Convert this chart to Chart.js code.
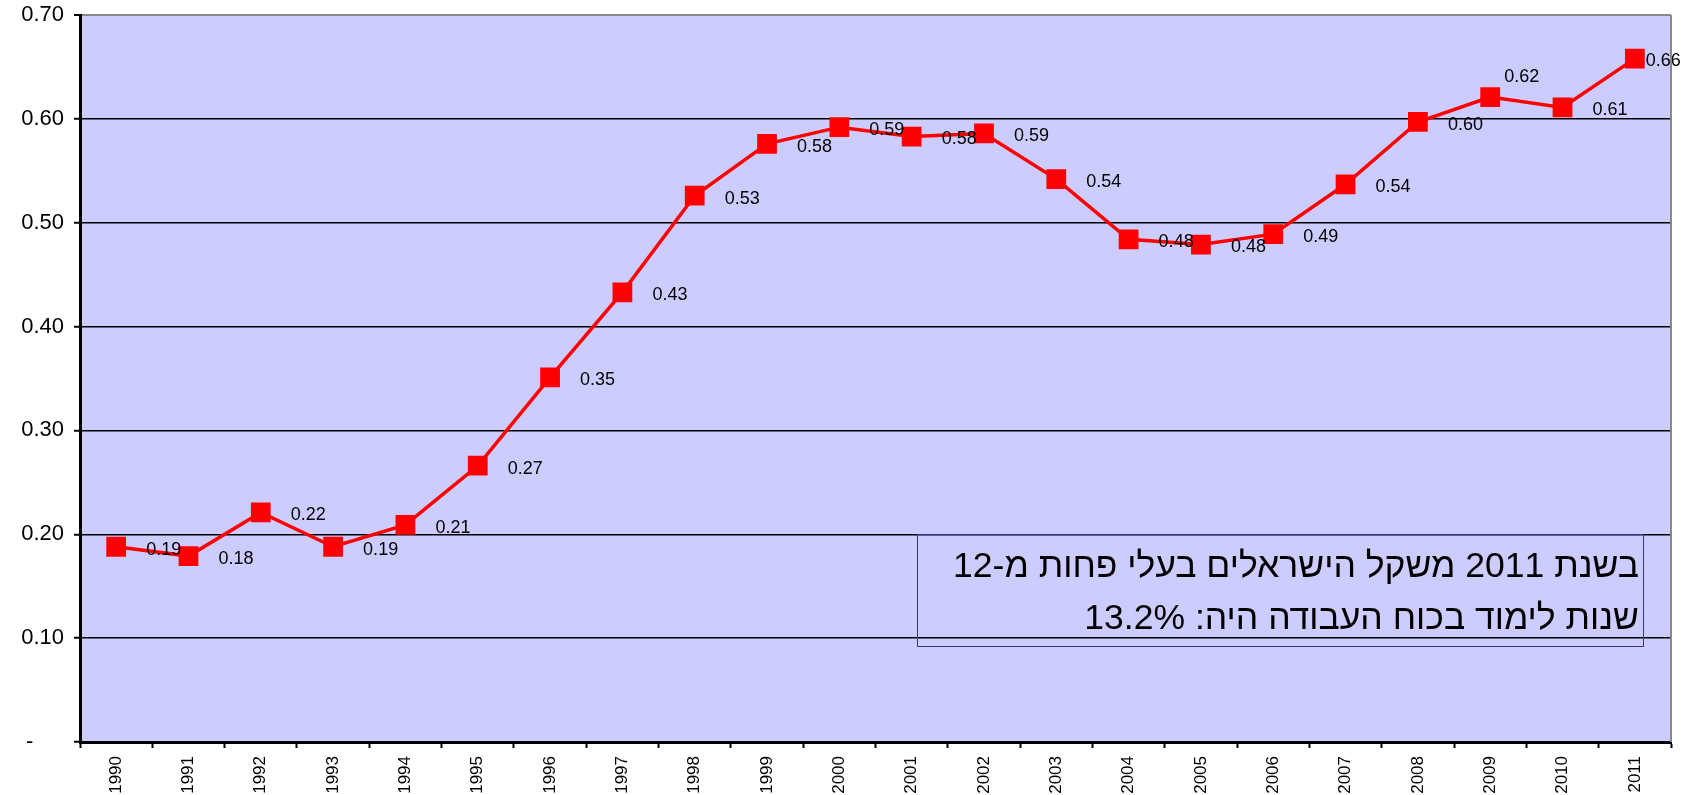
<!DOCTYPE html>
<html>
<head>
<meta charset="utf-8">
<script src="https://cdn.jsdelivr.net/npm/chart.js@4"></script>
<style>
  html, body { margin: 0; padding: 0; background: #fff; }
  #wrap { position: relative; width: 1695px; height: 795px; }
  #note {
    position: absolute; left: 917px; top: 534px; width: 727px; height: 113px;
    border: 1.5px solid #333399; box-sizing: border-box;
    direction: rtl; text-align: right; padding: 4px 4px 0 0;
    font-family: "Liberation Sans", Arial, sans-serif; font-size: 35.5px; line-height: 52px; color: #000;
  }
</style>
</head>
<body>
<div id="wrap">
  <canvas id="chart" width="1695" height="795"></canvas>
  <div id="note">בשנת 2011 משקל הישראלים בעלי פחות מ-12<br>שנות לימוד בכוח העבודה היה: 13.2%</div>
</div>
<script>
const years = ["1990","1991","1992","1993","1994","1995","1996","1997","1998","1999","2000",
               "2001","2002","2003","2004","2005","2006","2007","2008","2009","2010","2011"];
const shareValues = [0.188, 0.179, 0.221, 0.188, 0.209, 0.266, 0.351, 0.433, 0.526, 0.576, 0.592,
                     0.583, 0.586, 0.542, 0.484, 0.479, 0.489, 0.537, 0.597, 0.621, 0.611, 0.658];
const yTicks = [0, 0.1, 0.2, 0.3, 0.4, 0.5, 0.6, 0.7];
const labelsAbove = ["2009"];

const FONT = "'Liberation Sans', Arial, sans-serif";

// plot area fill + grey right edge
const plotBg = {
    id: "plotBg",
    beforeDraw(chart) {
        const a = chart.chartArea, ctx = chart.ctx;
        ctx.save();
        ctx.fillStyle = "#CCCCFF";
        ctx.fillRect(a.left, a.top, a.right - a.left, a.bottom - a.top);
        ctx.restore();
    },
    afterDraw(chart) {
        const a = chart.chartArea, ctx = chart.ctx;
        ctx.save();
        ctx.strokeStyle = "#888888";
        ctx.lineWidth = 2;
        ctx.beginPath();
        ctx.moveTo(a.right, a.top);
        ctx.lineTo(a.right, a.bottom);
        ctx.stroke();
        ctx.restore();
    }
};

// value labels next to each point
const valueLabels = {
    id: "valueLabels",
    afterDatasetsDraw(chart) {
        const ctx = chart.ctx;
        const meta = chart.getDatasetMeta(0);
        const last = meta.data.length - 1;
        ctx.save();
        ctx.font = "18px " + FONT;
        ctx.fillStyle = "#000";
        ctx.textAlign = "left";
        ctx.textBaseline = "middle";
        meta.data.forEach((pt, i) => {
            const txt = shareValues[i].toFixed(2);
            if (labelsAbove.includes(years[i])) {
                ctx.fillText(txt, pt.x + 14, pt.y - 20);
            } else if (i === last) {
                ctx.fillText(txt, pt.x + 11, pt.y + 2);
            } else {
                ctx.fillText(txt, pt.x + 30, pt.y + 3);
            }
        });
        ctx.restore();
    }
};

new Chart(document.getElementById("chart"), {
    type: "line",
    data: {
        labels: years,
        datasets: [{
            data: shareValues,
            borderColor: "#FF0000",
            backgroundColor: "#FF0000",
            borderWidth: 3.5,
            pointStyle: "rect",
            pointRadius: 11.5,
            pointHoverRadius: 11.5,
            tension: 0
        }]
    },
    options: {
        responsive: false,
        animation: false,
        events: [],
        layout: { padding: { top: 15, right: 24, left: 0, bottom: 0 } },
        plugins: { legend: { display: false }, tooltip: { enabled: false } },
        scales: {
            x: {
                offset: true,
                grid: {
                    offset: true,
                    drawOnChartArea: false,
                    color: "#000",
                    tickLength: 6,
                    tickWidth: 2
                },
                border: { color: "#000", width: 3 },
                ticks: {
                    color: "#000",
                    font: { family: FONT, size: 17 },
                    minRotation: 90,
                    maxRotation: 90,
                    padding: 8,
                    autoSkip: false
                },
                afterFit(scale) {
                    scale.height = 53;
                    scale.paddingLeft = 0;
                    scale.paddingRight = 0;
                }
            },
            y: {
                min: 0,
                max: 0.7,
                afterBuildTicks(scale) { scale.ticks = yTicks.map(v => ({ value: v })); },
                grid: {
                    color: ctx => (ctx.tick && ctx.tick.value >= 0.7 ? "#888888" : "#000"),
                    lineWidth: ctx => (ctx.tick && ctx.tick.value >= 0.7 ? 2 : 1.5),
                    tickColor: "#000",
                    tickLength: 6,
                    tickWidth: 2
                },
                border: { color: "#000", width: 3 },
                ticks: {
                    color: "#000",
                    font: { family: FONT, size: 22 },
                    padding: 10,
                    callback: v => (v === 0 ? "-     " : v.toFixed(2))
                },
                afterFit(scale) {
                    scale.width = 80;
                    scale.paddingTop = 0;
                    scale.paddingBottom = 0;
                }
            }
        }
    },
    plugins: [plotBg, valueLabels]
});
</script>
</body>
</html>
